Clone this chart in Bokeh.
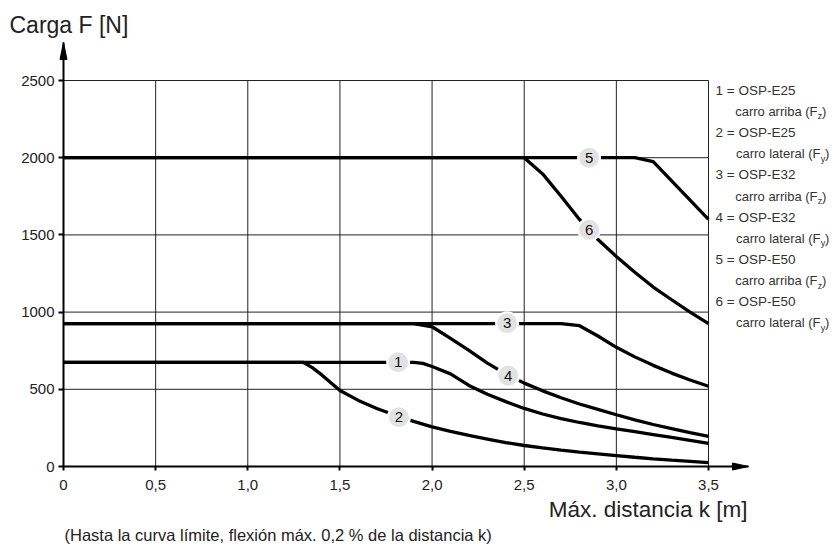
from bokeh.plotting import figure
from bokeh.models import Range1d, FixedTicker, CustomJSTickFormatter, Label, ColumnDataSource
from bokeh.embed import file_html
from bokeh.resources import INLINE
from bokeh.core.properties import value

# ---------------- data ----------------
x_ticks = [0, 0.5, 1.0, 1.5, 2.0, 2.5, 3.0, 3.5]
x_tick_labels = ["0", "0,5", "1,0", "1,5", "2,0", "2,5", "3,0", "3,5"]
y_ticks = [0, 500, 1000, 1500, 2000, 2500]

# curve 1: OSP-E25 carro arriba (Fz)
c1_x = [0, 1.9, 1.95, 2.0, 2.1, 2.2, 2.3, 2.4, 2.5, 2.6, 2.7, 2.8, 2.9, 3.0, 3.1, 3.2, 3.3, 3.4, 3.5]
c1_y = [675, 675, 668, 648, 600, 525, 468, 420, 376, 340, 310, 285, 263, 244, 226, 207, 188, 169, 150]
# curve 2: OSP-E25 carro lateral (Fy)
c2_x = [0, 1.3, 1.35, 1.4, 1.5, 1.6, 1.7, 1.8, 1.9, 2.0, 2.1, 2.2, 2.3, 2.4, 2.5, 2.6, 2.7, 2.8, 2.9, 3.0, 3.1, 3.2, 3.3, 3.4, 3.5]
c2_y = [675, 675, 640, 595, 492, 428, 376, 332, 292, 257, 227, 201, 178, 155, 136, 120, 106, 93, 82, 71, 60, 50, 41, 33, 25]
# curve 3: OSP-E32 carro arriba (Fz)
c3_x = [0, 2.7, 2.8, 2.9, 3.0, 3.1, 3.2, 3.3, 3.4, 3.5]
c3_y = [925, 925, 912, 845, 772, 710, 655, 605, 560, 520]
# curve 4: OSP-E32 carro lateral (Fy)
c4_x = [0, 1.9, 2.0, 2.1, 2.2, 2.3, 2.4, 2.5, 2.6, 2.7, 2.8, 2.9, 3.0, 3.1, 3.2, 3.3, 3.4, 3.5]
c4_y = [925, 925, 905, 830, 752, 670, 600, 540, 490, 445, 405, 370, 335, 302, 272, 245, 219, 195]
# curve 5: OSP-E50 carro arriba (Fz)
c5_x = [0, 3.1, 3.2, 3.5]
c5_y = [2000, 2000, 1975, 1600]
# curve 6: OSP-E50 carro lateral (Fy)
c6_x = [0, 2.5, 2.6, 2.7, 2.8, 2.9, 3.0, 3.1, 3.2, 3.3, 3.4, 3.5]
c6_y = [2000, 2000, 1895, 1750, 1600, 1470, 1360, 1258, 1162, 1080, 1000, 925]

# curve number badges
badge_ids = ["1", "2", "3", "4", "5", "6"]
badge_x = [1.816, 1.82, 2.407, 2.413, 2.852, 2.852]
badge_y = [675, 319, 928, 589, 2000, 1533]

# legend
legend_models = ["OSP-E25", "OSP-E25", "OSP-E32", "OSP-E32", "OSP-E50", "OSP-E50"]
legend_desc = ["carro arriba (F", "carro lateral (F", "carro arriba (F",
               "carro lateral (F", "carro arriba (F", "carro lateral (F"]
legend_sub = ["z", "y", "z", "y", "z", "y"]

title_text = "Carga F [N]"
xlabel_text = "Máx. distancia k [m]"
note_text = "(Hasta la curva límite, flexión máx. 0,2 % de la distancia k)"

# ---------------- geometry (canvas pixels -> data) ----------------
W, H = 836, 546
PX_X = 645 / 3.5      # px per metre
PX_Y = 386 / 2500     # px per newton
X0_PX, Y0_PX = 63, 466  # canvas position of the data origin

def dx(px):
    return (px - X0_PX) / PX_X

def dy(py):
    return (Y0_PX - py) / PX_Y

MID = 0.3465  # distance (in em) from text middle to alphabetic baseline

def label(px, base_py, text, size, align="left", color="#222222"):
    return Label(x=dx(px), y=dy(base_py - MID * size), text=text, text_font="Liberation Sans",
                 text_font_size=f"{size}px", text_color=color, text_align=align,
                 text_baseline="middle")

x_tip = 3.5 + 40 / PX_X      # x-axis arrow tip
y_tip = 2500 + 38 / PX_Y     # y-axis arrow tip

FONT = "Liberation Sans"
TXT = "#222222"

p = figure(width=W, height=H, x_range=Range1d(dx(0), dx(W)), y_range=Range1d(dy(H), dy(0)),
           output_backend="svg", toolbar_location=None,
           min_border_left=0, min_border_right=0, min_border_top=0, min_border_bottom=0)
p.outline_line_color = None
p.xgrid.visible = False
p.ygrid.visible = False
p.background_fill_color = "white"
p.border_fill_color = "white"

# axes (drawn through the data origin)
xa = p.xaxis[0]
xa.fixed_location = 0
xa.bounds = (0, x_tip)
xa.ticker = FixedTicker(ticks=x_ticks)
xa.formatter = CustomJSTickFormatter(args=dict(xt=x_ticks, xl=x_tick_labels),
                                     code="const i = xt.indexOf(tick); return i >= 0 ? xl[i] : '';")
ya = p.yaxis[0]
ya.fixed_location = 0
ya.bounds = (0, y_tip)
ya.ticker = FixedTicker(ticks=y_ticks)
for ax, tout, stand in ((xa, 4, 9), (ya, 5, 4)):
    ax.axis_line_width = 2
    ax.axis_line_color = "black"
    ax.major_tick_out = tout
    ax.major_tick_in = 0
    ax.major_tick_line_width = 2
    ax.major_tick_line_color = "black"
    ax.minor_tick_line_color = None
    ax.major_label_text_font = FONT
    ax.major_label_text_font_size = "15px"
    ax.major_label_text_color = TXT
    ax.major_label_standoff = stand

# grid lines (bounded to the tick extents)
gx = [t for t in x_ticks if t > 0]
gy = [t for t in y_ticks if t > 0]
p.segment(x0=gx, y0=[0] * len(gx), x1=gx, y1=[max(y_ticks)] * len(gx), line_color="#222222", line_width=1)
p.segment(x0=[0] * len(gy), y0=gy, x1=[max(x_ticks)] * len(gy), y1=gy, line_color="#222222", line_width=1)

# arrow heads
ah_len_x, ah_w = 16 / PX_X, 3.5 / PX_Y
p.patch([x_tip - ah_len_x, x_tip, x_tip - ah_len_x], [-ah_w, 0, ah_w], color="black")
ah_len_y, ah_wx = 17 / PX_Y, 3.5 / PX_X
p.patch([-ah_wx, 0, ah_wx], [y_tip - ah_len_y, y_tip, y_tip - ah_len_y], color="black")

# curves
for xs, ys in ((c1_x, c1_y), (c2_x, c2_y), (c3_x, c3_y), (c4_x, c4_y), (c5_x, c5_y), (c6_x, c6_y)):
    p.line(xs, ys, line_color="black", line_width=3.3)

# badges
bsrc = ColumnDataSource(dict(x=badge_x, y=badge_y, t=badge_ids))
p.scatter("x", "y", source=bsrc, size=22, fill_color="#e2e2e2", line_color="white", line_width=2)
p.text("x", "y", text="t", source=bsrc, text_align="center", text_baseline="middle",
       text_font=value(FONT), text_font_size="15px", text_color="#111111")

# titles / notes
p.add_layout(label(9, 32, title_text, 23))
p.add_layout(label(747, 516.5, xlabel_text, 22.5, align="right"))
p.add_layout(label(64, 540.5, note_text, 16.5))

# legend
LCOL = "#333333"
for i in range(6):
    base1 = 94.3 + 21.15 * (2 * i)
    base2 = base1 + 21.15
    p.add_layout(label(715, base1, f"{i + 1} = {legend_models[i]}", 13.5, color=LCOL))
    fend = 817 if legend_sub[i] == "z" else 820
    p.add_layout(label(fend, base2, legend_desc[i], 13, align="right", color=LCOL))
    p.add_layout(label(fend + 0.3, base2 + 3.5, legend_sub[i], 9, color=LCOL))
    p.add_layout(label(fend + 4.6, base2, ")", 13, color=LCOL))

open("out.html", "w").write(file_html(p, INLINE))
